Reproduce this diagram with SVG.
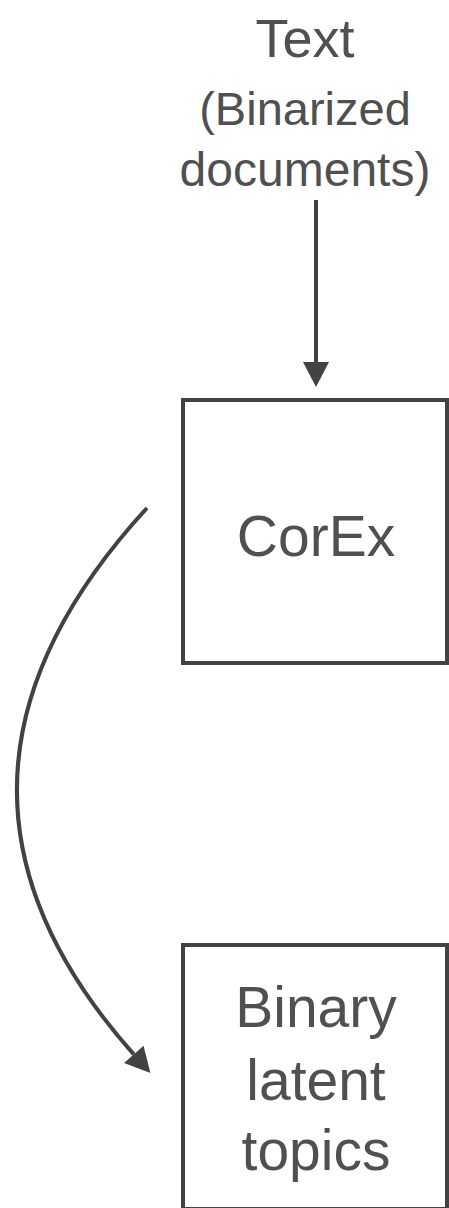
<svg xmlns="http://www.w3.org/2000/svg" width="449" height="1208" viewBox="0 0 449 1208">
  <style>
    .box { fill: #ffffff; stroke: #424242; stroke-width: 4; }
    .label { font-family: "Liberation Sans", Arial, sans-serif; fill: #505050; text-anchor: middle; }
    .edge { fill: none; stroke: #424242; stroke-width: 4; }
  </style>
  <defs>
    <!-- filled triangular head, drawn forward from the end of the line -->
    <marker id="arrow" markerUnits="userSpaceOnUse" markerWidth="27" markerHeight="27" refX="0" refY="13" orient="auto" overflow="visible">
      <path d="M0,0 L25,13 L0,26 Z" fill="#424242"/>
    </marker>
  </defs>
  <rect width="449" height="1208" fill="#ffffff"/>

  <g id="input">
    <text class="label" x="305" y="57" font-size="54">Text</text>
    <text class="label" x="305" y="125" font-size="47">(Binarized</text>
    <text class="label" x="305" y="186" font-size="48">documents)</text>
  </g>

  <g id="corex">
    <rect class="box" x="183" y="400" width="264" height="263"/>
    <text class="label" x="316" y="556" font-size="57">CorEx</text>
  </g>

  <g id="topics">
    <rect class="box" x="183" y="945" width="264" height="264"/>
    <text class="label" x="316" y="1027" font-size="57">Binary</text>
    <text class="label" x="316" y="1100" font-size="57">latent</text>
    <text class="label" x="316" y="1170" font-size="57">topics</text>
  </g>

  <g id="connectors">
    <line class="edge" x1="316" y1="200" x2="316" y2="362" marker-end="url(#arrow)"/>
    <path class="edge" d="M147,508 Q-106.4,784.2 133.8,1054.4" marker-end="url(#arrow)"/>
  </g>
</svg>
